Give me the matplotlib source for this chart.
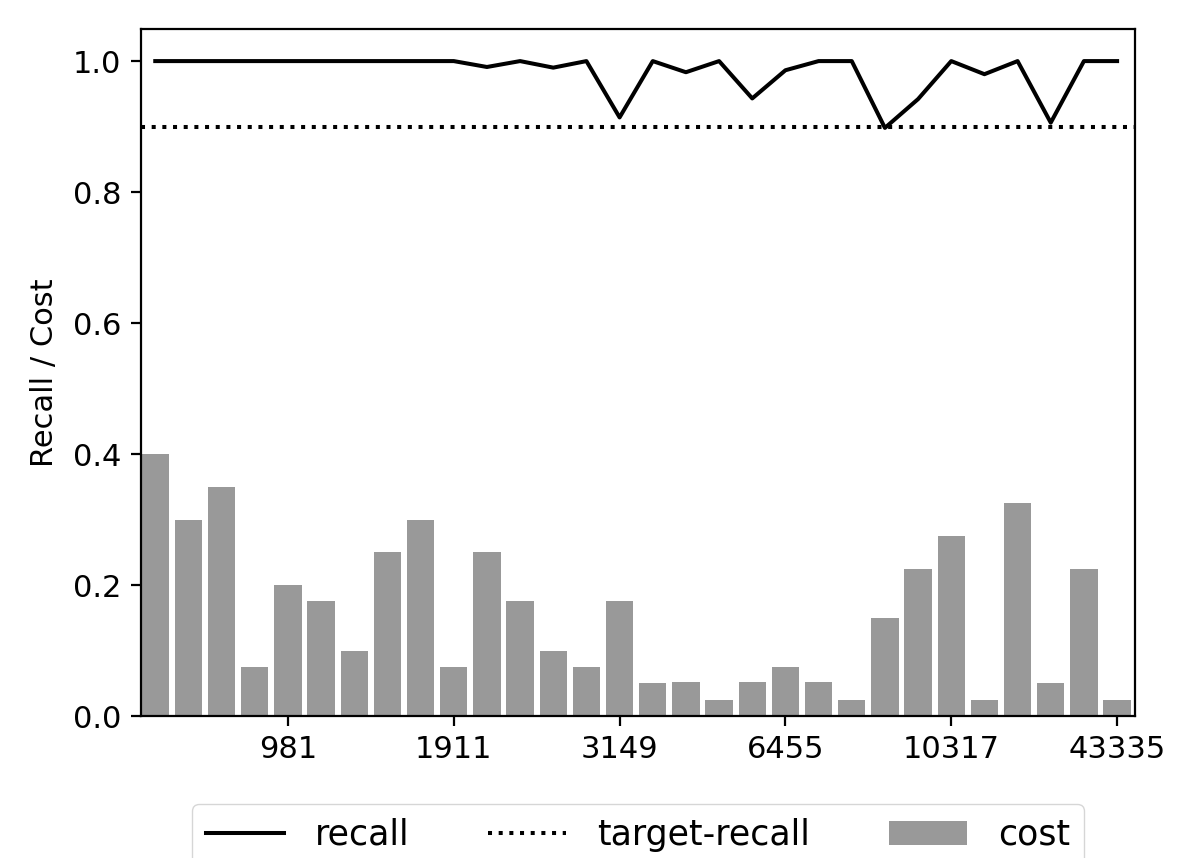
import matplotlib
matplotlib.use("Agg")
import matplotlib.pyplot as plt
import numpy as np

tick_labels = ["981", "1911", "3149", "6455", "10317", "43335"]
tick_positions = [4, 9, 14, 19, 24, 29]

cost = [0.40, 0.30, 0.35, 0.075, 0.20, 0.175, 0.10, 0.25, 0.30, 0.075,
        0.25, 0.175, 0.10, 0.075, 0.175, 0.05, 0.0526, 0.025, 0.0526, 0.075,
        0.0526, 0.025, 0.15, 0.225, 0.275, 0.025, 0.325, 0.05, 0.225, 0.025]

recall = [1.0, 1.0, 1.0, 1.0, 1.0, 1.0, 1.0, 1.0, 1.0, 1.0,
          0.991, 1.0, 0.990, 1.0, 0.914, 1.0, 0.983, 1.0, 0.943, 0.986,
          1.0, 1.0, 0.898, 0.942, 1.0, 0.980, 1.0, 0.906, 1.0, 1.0]

target_recall = 0.9

W, H = 1196, 858
fig = plt.figure(figsize=(W / 100, H / 100), dpi=100)
ax = fig.add_axes([141 / W, 1 - 716 / H, (1135 - 141) / W, (716 - 29) / H])

x = np.arange(len(cost))
ax.bar(x, cost, width=0.82, color="#999999", label="cost", zorder=1)
ax.plot(x, recall, color="black", lw=2.9, label="recall", zorder=3)
ax.axhline(target_recall, color="black", lw=2.9, ls=":", label="target-recall", zorder=3)

ax.set_xlim(-0.43, 29.54)
ax.set_ylim(0, 1.049)
ax.set_yticks([0.0, 0.2, 0.4, 0.6, 0.8, 1.0])
ax.set_xticks(tick_positions)
ax.set_xticklabels(tick_labels)
ax.tick_params(axis="both", labelsize=22, length=7, width=1.6, pad=7)
for s in ax.spines.values():
    s.set_linewidth(1.6)
ax.set_ylabel("Recall / Cost", fontsize=22, labelpad=10)

handles, labels = ax.get_legend_handles_labels()
order = [labels.index("recall"), labels.index("target-recall"), labels.index("cost")]
ax.legend([handles[i] for i in order], [labels[i] for i in order],
          loc="upper center", bbox_to_anchor=(0.5, (716 - 804) / 687), ncol=3,
          fontsize=25, handlelength=2.25, columnspacing=2.25, handletextpad=0.9,
          borderaxespad=0, borderpad=0.4)

fig.savefig("out.png", dpi=100)
